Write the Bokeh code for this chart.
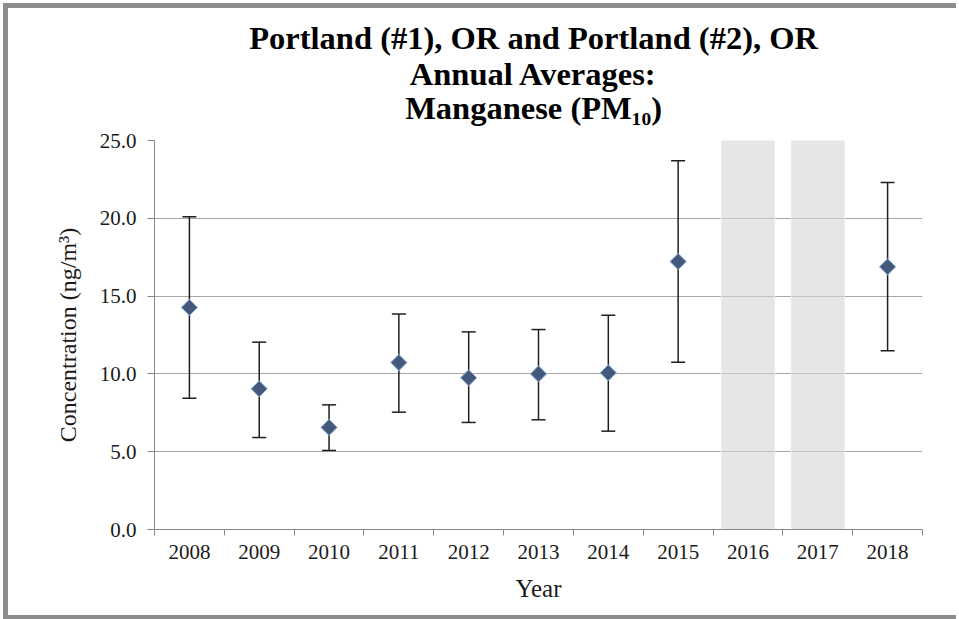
from bokeh.plotting import figure
from bokeh.layouts import column
from bokeh.models import (Range1d, FixedTicker, NumeralTickFormatter, Whisker,
                          ColumnDataSource, Label, TeeHead)
from bokeh.embed import file_html
from bokeh.resources import INLINE

# ---- data ----
all_years = [2008, 2009, 2010, 2011, 2012, 2013, 2014, 2015, 2016, 2017, 2018]
years = [2008, 2009, 2010, 2011, 2012, 2013, 2014, 2015, 2018]
means = [14.27, 9.04, 6.56, 10.73, 9.75, 10.00, 10.07, 17.22, 16.88]
upper = [20.10, 12.04, 8.01, 13.85, 12.70, 12.85, 13.77, 23.70, 22.30]
lower = [8.44, 5.91, 5.08, 7.54, 6.88, 7.05, 6.32, 10.75, 11.48]
shaded_years = [2016, 2017]
y_ticks = [0, 5, 10, 15, 20, 25]
title_lines = ["Portland (#1), OR and Portland (#2), OR",
               "Annual Averages:",
               "Manganese (PM\u2081\u2080)"]
x_label = "Year"
y_label = "Concentration (ng/m\u00b3)"

SERIF = "Liberation Serif"
AXIS_COLOR = "#868686"
W = 948
ML, MR = 146, 34

# ---- title panel (a figure with no axes) ----
TH = 122
t = figure(width=W, height=TH, output_backend="svg", toolbar_location=None,
           x_range=Range1d(all_years[0] - 0.5, all_years[-1] + 0.5),
           y_range=Range1d(0, TH),
           min_border_left=ML, min_border_right=MR,
           min_border_top=0, min_border_bottom=0)
t.axis.visible = False
t.grid.visible = False
t.outline_line_color = None
TITLE_X = 2012.93
title_y = [93, 57, 23]   # baselines, px above the panel bottom
for txt, ty in zip(title_lines, title_y):
    t.add_layout(Label(x=TITLE_X, y=ty, text=txt,
                       text_align="center", text_baseline="alphabetic",
                       text_font=SERIF, text_font_size="32.5px",
                       text_font_style="bold", text_color="black"))

# ---- main chart ----
p = figure(width=W, height=485, output_backend="svg", toolbar_location=None,
           x_range=t.x_range,
           y_range=Range1d(y_ticks[0], y_ticks[-1]),
           min_border_left=ML, min_border_right=MR,
           min_border_top=10, min_border_bottom=86)
p.outline_line_color = None
p.background_fill_color = "white"
p.border_fill_color = "white"

# grid
p.xgrid.grid_line_color = None
p.ygrid.grid_line_color = "#a6a6a6"
p.ygrid.grid_line_width = 1
p.ygrid.ticker = FixedTicker(ticks=y_ticks)

# shaded (no data) years
sh = ColumnDataSource(dict(x=shaded_years, top=[y_ticks[-1]] * len(shaded_years),
                           bottom=[y_ticks[0]] * len(shaded_years)))
p.vbar(x="x", top="top", bottom="bottom", width=0.76, source=sh,
       fill_color="#d6d6d6", fill_alpha=0.6, line_color="#eeece2", line_width=1)

# error bars
src = ColumnDataSource(dict(x=years, y=means, upper=upper, lower=lower))
w = Whisker(base="x", upper="upper", lower="lower", source=src,
            line_color="#1f1f1f", line_width=1.5,
            upper_head=TeeHead(size=14, line_color="#1f1f1f", line_width=1.5),
            lower_head=TeeHead(size=14, line_color="#1f1f1f", line_width=1.5))
p.add_layout(w)

# markers
p.scatter(x="x", y="y", source=src, marker="square", angle=0.785398, size=11.5,
          fill_color="#43587a", line_color="#8fb3e3", line_width=1)

# x axis
boundaries = [yr - 0.5 for yr in all_years] + [all_years[-1] + 0.5]
xa = p.xaxis[0]
xa.ticker = FixedTicker(ticks=all_years, minor_ticks=boundaries)
xa.major_tick_line_color = None
xa.minor_tick_line_color = AXIS_COLOR
xa.minor_tick_out = 6
xa.minor_tick_in = 0
xa.axis_line_color = AXIS_COLOR
xa.major_label_text_font = SERIF
xa.major_label_text_font_size = "21px"
xa.major_label_text_color = "#1a1a1a"
xa.major_label_standoff = 9
xa.axis_label = x_label
xa.axis_label_text_font = SERIF
xa.axis_label_text_font_size = "25px"
xa.axis_label_text_font_style = "normal"
xa.axis_label_text_color = "#1a1a1a"
xa.axis_label_standoff = 13

# y axis
ya = p.yaxis[0]
ya.ticker = FixedTicker(ticks=y_ticks)
ya.formatter = NumeralTickFormatter(format="0.0")
ya.major_tick_line_color = AXIS_COLOR
ya.major_tick_out = 7
ya.major_tick_in = 0
ya.minor_tick_line_color = None
ya.axis_line_color = AXIS_COLOR
ya.major_label_text_font = SERIF
ya.major_label_text_font_size = "21px"
ya.major_label_text_color = "#1a1a1a"
ya.major_label_standoff = 11
ya.axis_label = y_label
ya.axis_label_text_font = SERIF
ya.axis_label_text_font_size = "24px"
ya.axis_label_text_font_style = "normal"
ya.axis_label_text_color = "#1a1a1a"
ya.axis_label_standoff = 16

layout = column(t, p, spacing=0,
                styles={"border-top": "5px solid #8c8c8c",
                        "border-left": "5px solid #8c8c8c",
                        "border-bottom": "4px solid #8c8c8c",
                        "margin-left": "3px", "margin-top": "3px",
                        "background-color": "white"})

open("out.html", "w").write(file_html(layout, INLINE))
